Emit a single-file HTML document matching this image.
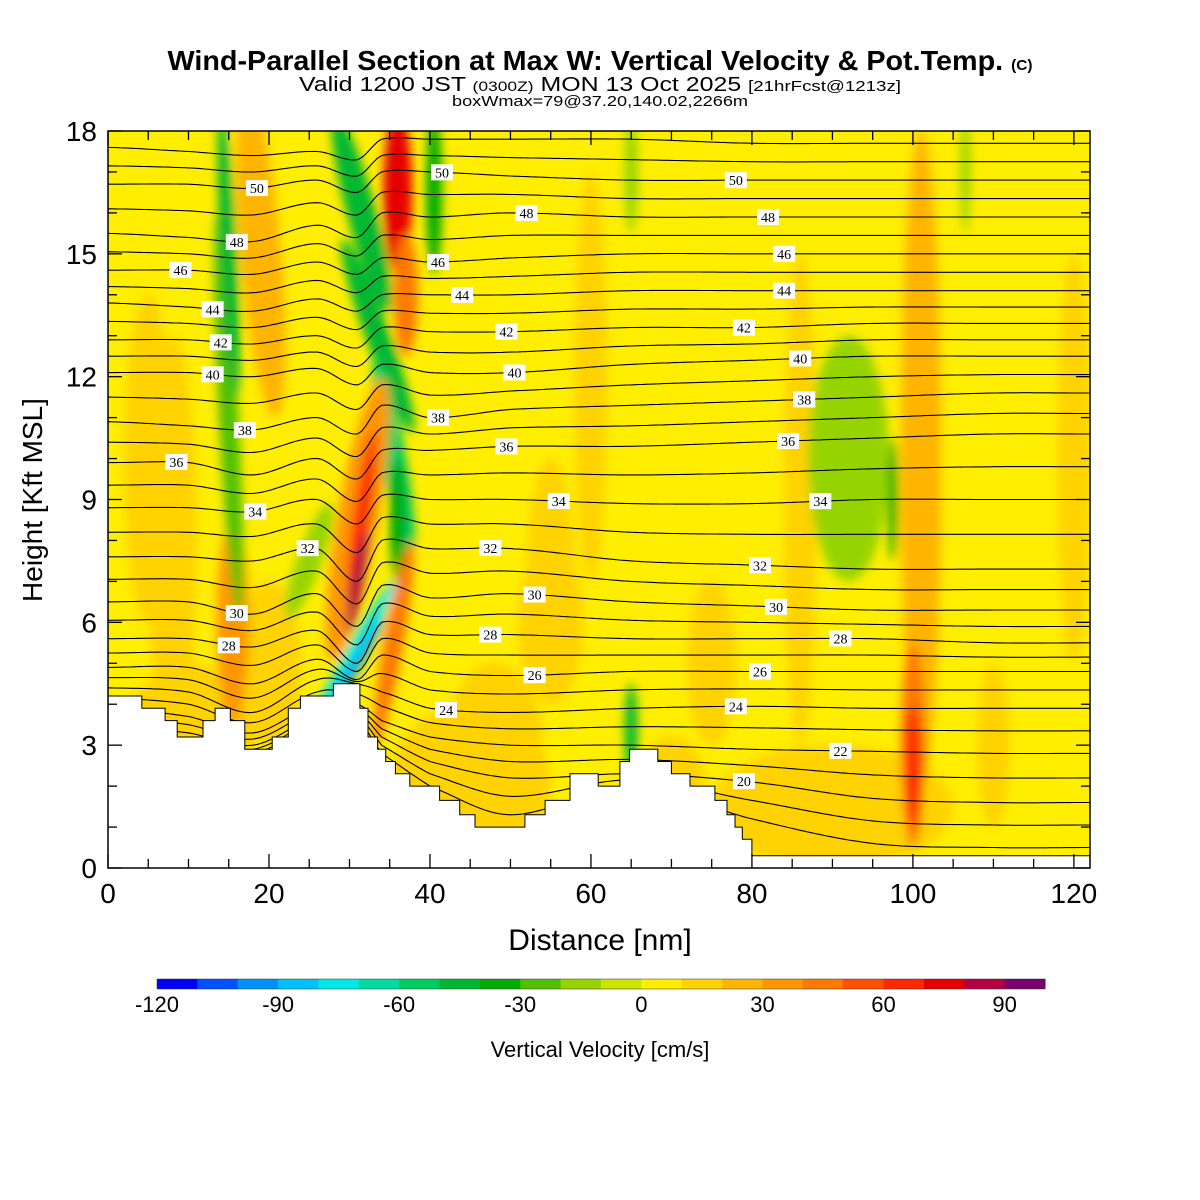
<!DOCTYPE html>
<html><head><meta charset="utf-8"><style>
html,body{margin:0;padding:0;background:#fff}
svg{display:block;font-family:"Liberation Sans",sans-serif}
</style></head><body>
<svg id="chart" width="1200" height="1200" viewBox="0 0 1200 1200">
<defs>
<clipPath id="plotclip"><rect x="108" y="131" width="982" height="737"/></clipPath>
<filter id="blur" x="-50%" y="-50%" width="200%" height="200%"><feGaussianBlur stdDeviation="5"/></filter>
</defs>
<text x="600" y="70" text-anchor="middle" font-weight="bold" font-size="28" textLength="865" lengthAdjust="spacingAndGlyphs">Wind-Parallel Section at Max W: Vertical Velocity &amp; Pot.Temp. <tspan font-size="15">(C)</tspan></text>
<text x="600" y="91" text-anchor="middle" font-size="20" textLength="602" lengthAdjust="spacingAndGlyphs">Valid 1200 JST <tspan font-size="14">(0300Z)</tspan> MON 13 Oct 2025 <tspan font-size="15">[21hrFcst@1213z]</tspan></text>
<text x="600" y="106" text-anchor="middle" font-size="15" textLength="296" lengthAdjust="spacingAndGlyphs">boxWmax=79@37.20,140.02,2266m</text>
<g id="field" clip-path="url(#plotclip)"></g>
<g id="contours" clip-path="url(#plotclip)"></g>
<g id="terrain"></g>
<g id="labels"></g>
<g id="axes"></g>
<g id="cbar"></g>
<text x="600" y="950" text-anchor="middle" font-size="30">Distance [nm]</text>
<text transform="translate(42,500) rotate(-90)" text-anchor="middle" font-size="28">Height [Kft MSL]</text>
<text x="600" y="1057" text-anchor="middle" font-size="22">Vertical Velocity [cm/s]</text>
</svg>
<script>
const xNodes=[0,10,18,26,31,34,40,50,65,80,95,110,122];
const thetaLevels=[52,50,48,46,44,42,40,38,36,34,32,30,28,26,24,22,20,18];
const thetaHeights=[
[17.6,17.5,17.4,17.5,17.3,17.8,17.8,17.8,17.8,17.7,17.7,17.7,17.7],
[16.7,16.7,16.6,16.8,16.5,17.0,17.0,16.9,16.8,16.8,16.8,16.8,16.8],
[15.5,15.4,15.3,15.7,15.4,16.0,15.9,16.0,15.9,15.9,15.9,15.9,15.9],
[14.6,14.6,14.5,14.8,14.5,14.9,14.8,14.9,15.0,15.0,15.0,15.0,15.0],
[13.8,13.7,13.6,13.9,13.6,14.0,14.0,14.0,14.1,14.1,14.1,14.1,14.1],
[12.9,12.9,12.8,13.0,12.7,13.2,13.1,13.1,13.2,13.2,13.3,13.3,13.3],
[12.1,12.1,12.0,12.2,11.8,12.3,12.1,12.1,12.3,12.4,12.5,12.5,12.5],
[10.9,10.8,10.7,11.0,10.6,11.3,11.0,11.2,11.3,11.4,11.5,11.6,11.6],
[9.9,9.9,9.6,10.0,9.5,10.2,10.2,10.3,10.3,10.4,10.5,10.6,10.6],
[8.8,8.8,8.7,9.0,8.4,9.1,9.0,9.0,8.9,8.9,9.0,9.0,9.0],
[7.6,7.6,7.5,7.8,7.0,8.0,7.8,7.8,7.5,7.4,7.3,7.3,7.3],
[6.5,6.5,6.2,6.7,5.9,6.9,6.6,6.7,6.5,6.4,6.3,6.3,6.3],
[5.6,5.6,5.4,5.8,5.0,6.0,5.7,5.7,5.6,5.6,5.6,5.5,5.5],
[4.9,4.9,4.5,5.1,4.6,5.2,4.8,4.7,4.8,4.8,4.8,4.8,4.8],
[4.4,4.3,3.8,4.6,4.5,4.3,3.9,3.8,3.9,3.95,3.9,3.9,3.9],
[3.9,3.7,3.3,4.0,4.0,3.6,3.2,3.0,3.0,2.9,2.85,2.8,2.8],
[3.5,3.3,3.0,3.7,3.8,3.2,2.6,2.2,2.3,2.1,1.7,1.6,1.6],
[3.2,3.0,2.8,3.5,3.6,2.8,2.0,1.3,2.0,1.2,0.6,0.5,0.5]];
const labelThetas=[50,48,46,44,42,40,38,36,34,32,30,28, 50,48,46,44,42,40,38,36,34,32,30,28,26,24, 50,48,46,44,42,40,38,36,34,32,30,28,26,24,22,20];
const labelXs=[18.5,16,9,13,14,13,17,8.5,18.3,24.8,16,15, 41.5,52,41,44,49.5,50.5,41,49.5,56,47.5,53,47.5,53,42, 78,82,84,84,79,86,86.5,84.5,88.5,81,83,91,81,78,91,79];
// terrain profile: [x nm, height kft]
const terrainX=[0,4.2,4.2,7.1,7.1,8.6,8.6,11.8,11.8,13.3,13.3,15.2,15.2,17,17,20.4,20.4,22.4,22.4,23.9,23.9,28,28,31.3,31.3,32.3,32.3,33.5,33.5,34.5,34.5,35.7,35.7,37.5,37.5,41.2,41.2,43.7,43.7,45.6,45.6,51.8,51.8,54.3,54.3,57.4,57.4,60.9,60.9,63.6,63.6,64.8,64.8,68.3,68.3,70,70,72.3,72.3,75.4,75.4,76.9,76.9,77.9,77.9,78.8,78.8,80,80,122];
const terrainZ=[4.2,4.2,3.9,3.9,3.6,3.6,3.2,3.2,3.6,3.6,3.9,3.9,3.6,3.6,2.9,2.9,3.2,3.2,3.9,3.9,4.2,4.2,4.5,4.5,3.9,3.9,3.2,3.2,2.9,2.9,2.6,2.6,2.3,2.3,2.0,2.0,1.65,1.65,1.3,1.3,1.0,1.0,1.3,1.3,1.65,1.65,2.3,2.3,2.0,2.0,2.6,2.6,2.9,2.9,2.6,2.6,2.3,2.3,2.0,2.0,1.65,1.65,1.3,1.3,1.0,1.0,0.7,0.7,0.3,0.3];
// velocity features: x nm, z kft, half-width nm, half-height kft, w cm/s, tilt deg
const blobX=[10,45,90,20,75,55,8,60,48,70,86,5,110,120,19,15.5,15,15,25,31.5,33.5,35.5,36,31,36,37,31.5,31,30.7,31,35.5,40.5,65,92,97.5,101,100,100,106.5,65,55,75];
const blobZ=[3,2,1.5,5,5,7,8,12,3,2.2,9,10,3,10,15,6,11,15,7.5,16,13,10,8.5,8.5,16.5,14,8.5,7,5.3,5,5.5,16.5,3.3,10,9,10,3,2.5,17,17,6,5];
const blobRX=[8,10,15,4,3,3,3,2,6,4,2,3,2,2,2.5,2,1.2,1,1.5,1.8,1.5,1.5,1,2.5,1.8,1.5,1,0.8,1,0.5,1.2,1,0.8,5,0.6,2.5,1.5,1,0.6,0.8,4,3];
const blobRZ=[2,2,1.5,2,2,3,5,5,2,1,6,4,2,5,4,2.5,5,3.5,1.5,2.5,2.5,2.5,1.5,3.5,2,1.5,2.2,1.3,2,1.3,2.5,2,1.2,3,1.5,8,2.5,1.5,1.5,1.5,2,2];
const blobW=[12,12,12,12,15,12,15,12,15,15,15,12,18,12,25,30,-25,-45,-20,-50,-45,-55,-40,35,70,45,65,80,-75,-100,40,-35,-45,-15,-35,25,40,65,-20,-20,12,12];
const blobTilt=[0,0,0,0,0,0,0,0,0,0,0,0,0,0,-5,0,-3,-3,20,-15,-20,-10,0,10,0,0,8,10,30,30,10,0,0,0,0,0,0,0,0,0,0,0];
const cbColors=['#0000ff','#0050ff','#0090ff','#00c0ff','#00e8e8','#00dca0','#00cc60','#00b830','#00aa00','#50c000','#96d400','#c8e600','#ffee00','#ffd200','#ffb400','#ff9600','#ff7800','#ff5000','#ff2800','#e60000','#b40040','#780070'];
const cbTicks=[-120,-90,-60,-30,0,30,60,90];
const xTicks=[0,20,40,60,80,100,120];
const yTicks=[0,3,6,9,12,15,18];

const NS='http://www.w3.org/2000/svg';
const X0=108,X1=1090,Y0=868,Y1=131,XMAX=122,ZMAX=18;
const sx=v=>X0+v*(X1-X0)/XMAX;
const sy=v=>Y0-v*(Y0-Y1)/ZMAX;
const cb=v=>157+(v+120)*(1045-157)/220;
function colorOf(w){let i=Math.floor((w+120)/10);i=Math.max(0,Math.min(21,i));return cbColors[i];}
function mk(tag,attrs,parent){const e=document.createElementNS(NS,tag);for(const k in attrs)e.setAttribute(k,attrs[k]);parent.appendChild(e);return e;}

const field=document.getElementById('field');
const bg=mk('rect',{x:X0,y:Y1,width:X1-X0,height:Y0-Y1,fill:colorOf(5)},field);


const fg=mk('g',{filter:'url(#blur)'},field);
for(let i=0;i<blobX.length;i++){
  const cx=sx(blobX[i]),cy=sy(blobZ[i]);
  const e=mk('ellipse',{cx:cx,cy:cy,rx:blobRX[i]*(X1-X0)/XMAX,ry:blobRZ[i]*(Y0-Y1)/ZMAX,fill:colorOf(blobW[i]),transform:`rotate(${blobTilt[i]} ${cx} ${cy})`},fg);
  
  
}

function rowFor(theta){
  const i=thetaLevels.indexOf(theta);
  if(i>=0)return thetaHeights[i];
  const a=thetaLevels.indexOf(theta+1),b=thetaLevels.indexOf(theta-1);
  if(a>=0&&b>=0)return thetaHeights[a].map((v,k)=>(v+thetaHeights[b][k])/2);
  return null;
}
function heightAt(row,x){
  let k=0;while(k<xNodes.length-2&&x>xNodes[k+1])k++;
  const p0=row[Math.max(0,k-1)],p1=row[k],p2=row[k+1],p3=row[Math.min(row.length-1,k+2)];
  const t=(x-xNodes[k])/(xNodes[k+1]-xNodes[k]);
  const t2=t*t,t3=t2*t;
  return 0.5*((2*p1)+(-p0+p2)*t+(2*p0-5*p1+4*p2-p3)*t2+(-p0+3*p1-3*p2+p3)*t3);
}
const cont=document.getElementById('contours');
for(let th=53;th>=18;th--){
  const row=rowFor(th);if(!row)continue;
  let d='';
  for(let x=0;x<=XMAX;x+=0.5){d+=(x===0?'M':'L')+sx(x).toFixed(1)+','+sy(heightAt(row,x)).toFixed(1);}
  const p=mk('path',{d:d,fill:'none',stroke:'#000','stroke-width':1.1},cont);
  
  
}

let td='M'+sx(0)+','+sy(0);
for(let i=0;i<terrainX.length;i++)td+='L'+sx(terrainX[i]).toFixed(1)+','+sy(terrainZ[i]).toFixed(1);
td+='L'+X1+','+sy(0)+'Z';
const tp=mk('path',{d:td,fill:'#fff',stroke:'#000','stroke-width':1},document.getElementById('terrain'));



const lab=document.getElementById('labels');
for(let i=0;i<labelThetas.length;i++){
  const row=rowFor(labelThetas[i]);const x=sx(labelXs[i]),y=sy(heightAt(row,labelXs[i]));
  const g=mk('g',{},lab);
  
  
  mk('rect',{x:x-11,y:y-8,width:22,height:16,fill:'#fff'},g);
  const t=mk('text',{x:x,y:y+5,'text-anchor':'middle','font-size':14,'font-family':'"Liberation Serif",serif'},g);
  t.textContent=labelThetas[i];
}

const ax=document.getElementById('axes');
const frame=mk('rect',{x:X0,y:Y1,width:X1-X0,height:Y0-Y1,fill:'none',stroke:'#000','stroke-width':1.5},ax);


for(let v=0;v<=XMAX;v+=5){
  const L=(v%20===0)?14:9;
  mk('line',{x1:sx(v),x2:sx(v),y1:Y0,y2:Y0-L,stroke:'#000','stroke-width':1.3},ax);
  mk('line',{x1:sx(v),x2:sx(v),y1:Y1,y2:Y1+L,stroke:'#000','stroke-width':1.3},ax);
}
for(let v=0;v<=ZMAX;v+=1){
  const L=(v%3===0)?14:9;
  mk('line',{x1:X0,x2:X0+L,y1:sy(v),y2:sy(v),stroke:'#000','stroke-width':1.3},ax);
  mk('line',{x1:X1,x2:X1-L,y1:sy(v),y2:sy(v),stroke:'#000','stroke-width':1.3},ax);
}
xTicks.forEach(v=>{const t=mk('text',{x:sx(v),y:903,'text-anchor':'middle','font-size':28},ax);t.textContent=v;
  
  });
yTicks.forEach(v=>{const t=mk('text',{x:97,y:sy(v)+10,'text-anchor':'end','font-size':28},ax);t.textContent=v;
  
  });

const cbg=document.getElementById('cbar');
for(let i=0;i<cbColors.length;i++){
  const v=-120+i*10;
  const r=mk('rect',{x:cb(v),y:979,width:cb(v+10)-cb(v)+0.5,height:10,fill:cbColors[i]},cbg);
  
  
}
mk('rect',{x:157,y:979,width:888,height:10,fill:'none',stroke:'#333','stroke-width':0.5},cbg);
cbTicks.forEach(v=>{const t=mk('text',{x:cb(v),y:1012,'text-anchor':'middle','font-size':22},cbg);t.textContent=v;
  
  });
</script>
</body></html>
